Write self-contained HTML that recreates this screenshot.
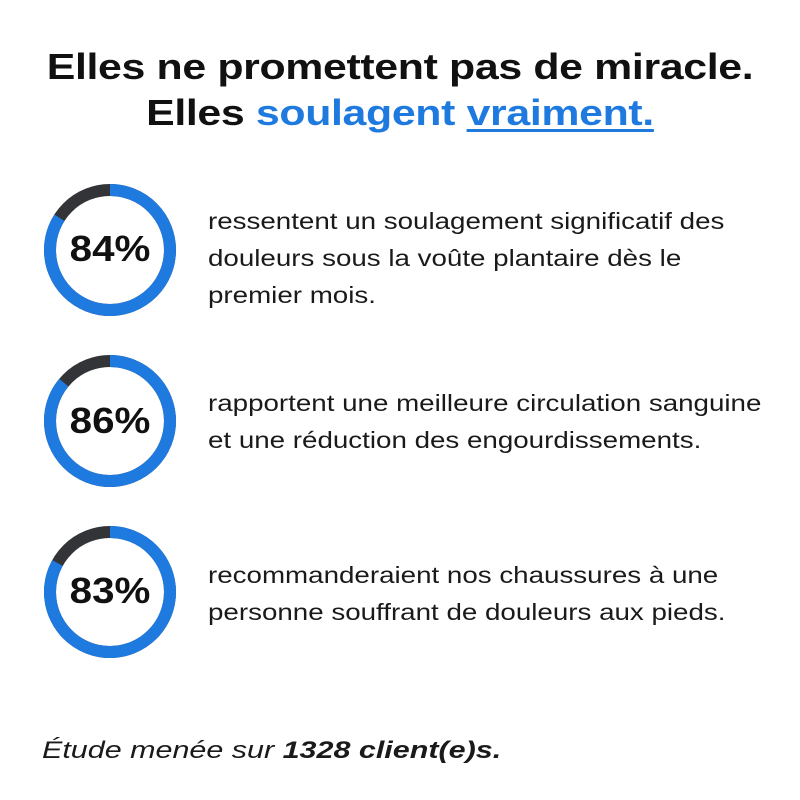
<!DOCTYPE html>
<html><head><meta charset="utf-8"><style>
body{margin:0;width:800px;height:800px;background:#fff;font-family:"Liberation Sans",sans-serif;position:relative;overflow:hidden;color:#111}
.t{position:absolute;left:0;width:800px;text-align:center;font-weight:bold;font-size:36px;letter-spacing:-0.3px;transform:scaleX(1.19);transform-origin:center}
.b{color:#1f7ae0}
.p{position:absolute;left:208px;font-size:23.5px;line-height:37px;color:#1a1a1a;transform:scaleX(1.18);transform-origin:left top;white-space:nowrap}
.n{position:absolute;width:140px;text-align:center;font-weight:bold;font-size:36px;left:40px;transform:scaleX(1.12)}
</style></head><body>
<div class="t" style="top:46px">Elles ne promettent pas de miracle.</div>
<div class="t" style="top:92px">Elles <span class="b">soulagent</span> <span class="b" style="text-decoration:underline;text-decoration-thickness:3px;text-underline-offset:4px">vraiment.</span></div>
<svg width="800" height="800" style="position:absolute;left:0;top:0">
<g fill="none" stroke-width="12">
<circle cx="110" cy="250" r="60" stroke="#333438"/>
<circle cx="110" cy="250" r="60" stroke="#1f7ae0" stroke-dasharray="316.7 400" transform="rotate(-90 110 250)"/>
<circle cx="110" cy="421" r="60" stroke="#333438"/>
<circle cx="110" cy="421" r="60" stroke="#1f7ae0" stroke-dasharray="324.2 400" transform="rotate(-90 110 421)"/>
<circle cx="110" cy="592" r="60" stroke="#333438"/>
<circle cx="110" cy="592" r="60" stroke="#1f7ae0" stroke-dasharray="312.9 400" transform="rotate(-90 110 592)"/>
</g></svg>
<div class="n" style="top:228px">84%</div>
<div class="n" style="top:400px">86%</div>
<div class="n" style="top:570px">83%</div>
<div class="p" style="top:203px">ressentent un soulagement significatif des<br>douleurs sous la voûte plantaire dès le<br>premier mois.</div>
<div class="p" style="top:385px">rapportent une meilleure circulation sanguine<br>et une réduction des engourdissements.</div>
<div class="p" style="top:557px">recommanderaient nos chaussures à une<br>personne souffrant de douleurs aux pieds.</div>
<div class="p" style="left:42px;top:732px;font-style:italic;font-size:24px;transform:scaleX(1.27)">Étude menée sur <b>1328 client(e)s.</b></div>
</body></html>
